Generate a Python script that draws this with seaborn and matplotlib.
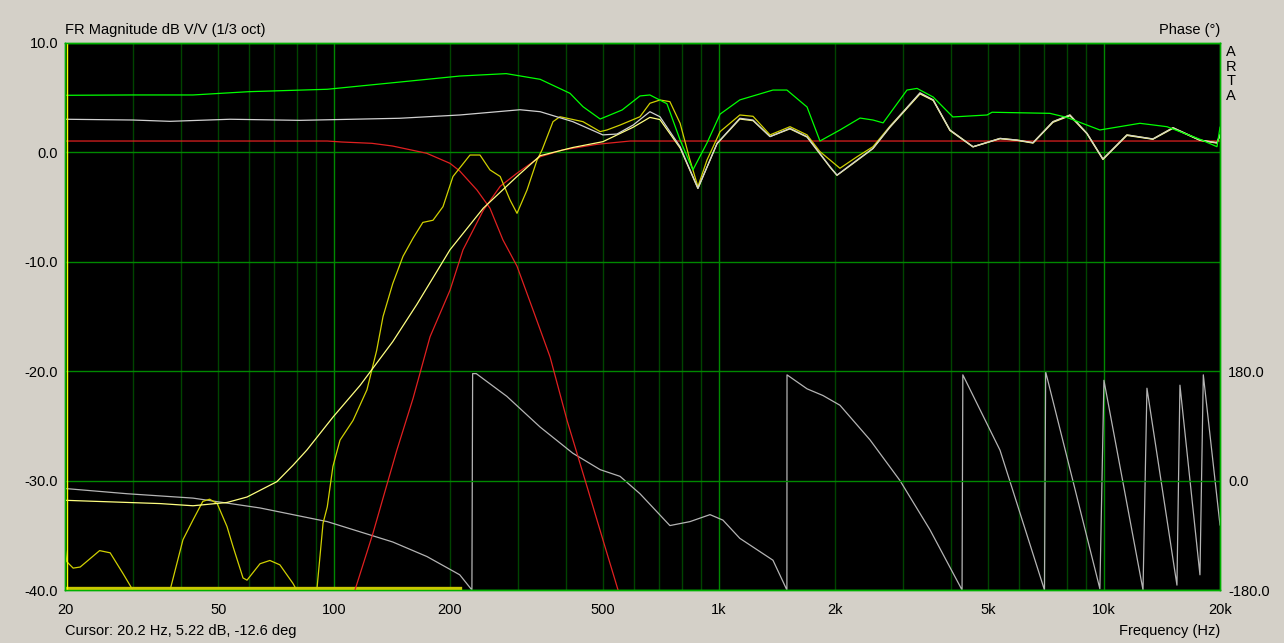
"""ARTA style frequency response plot: magnitude curves plus wrapped phase."""

import matplotlib
matplotlib.use("Agg")
import matplotlib.pyplot as plt
from matplotlib.ticker import NullLocator
import seaborn as sns

# --- data ------------------------------------------------------------------
# total response (lime)
FREQ_TOTAL = [20, 30, 43, 60, 96, 150, 212, 280, 343, 410, 443, 491, 560, 623, 661,
              732, 792, 855, 930, 1006, 1132, 1380, 1500, 1692, 1828, 2060, 2323,
              2510, 2667, 3076, 3267, 3598, 4048, 4967, 5116, 7230, 8000, 9750,
              12390, 14560, 17740, 19640, 20000]
DB_TOTAL = [5.22, 5.25, 5.25, 5.55, 5.77, 6.45, 6.98, 7.2, 6.68, 5.4, 4.18, 3.05, 3.88,
            5.16, 5.25, 4.45, 1.13, -1.6, 0.86, 3.5, 4.8, 5.7, 5.7, 4.15, 1.04, 2.05,
            3.14, 2.96, 2.7, 5.7, 5.85, 5.06, 3.24, 3.42, 3.67, 3.57, 3.2, 2.05,
            2.66, 2.35, 1.2, 0.52, 2.3]

# summed response (light grey)
FREQ_SUM = [20, 30, 37.5, 53.7, 81.5, 148, 212, 304, 343, 417, 499, 543, 598, 661,
            702, 792, 881, 988, 1132, 1225, 1356, 1528, 1692, 1941, 2024, 2281,
            2510, 2779, 3325, 3598, 3977, 4565, 5366, 5940, 6536, 7364, 8152, 9027,
            9930, 11460, 13390, 15100, 17740, 19640, 20000]
DB_SUM = [3.03, 2.96, 2.84, 3.03, 2.93, 3.12, 3.42, 3.9, 3.72, 2.81, 1.6, 1.68, 2.5,
          3.72, 3.26, 0.52, -3.28, 0.83, 3.12, 2.96, 1.44, 2.2, 1.44, -1.3, -2.07,
          -0.7, 0.37, 2.35, 5.45, 4.8, 2.05, 0.52, 1.28, 1.13, 0.89, 2.81, 3.42,
          1.74, -0.6, 1.6, 1.23, 2.26, 1.13, 0.89, 1.6]

# filtered driver (pale yellow)
FREQ_FILT = [20, 35.3, 43, 52.7, 59.4, 71, 78.2, 85, 99.3, 116.8, 142, 164, 200, 244,
             298.6, 343, 417, 499, 598, 661, 702, 792, 881, 988, 1132, 1225, 1356,
             1528, 1692, 1941, 2024, 2281, 2510, 2779, 3325, 3598, 3977, 4565, 5366,
             5940, 6536, 7364, 8152, 9027, 9930, 11460, 13390, 15100, 17740, 19640,
             20000]
DB_FILT = [-31.8, -32.1, -32.3, -32.0, -31.5, -30.1, -28.6, -27.2, -24.2, -21.3,
           -17.3, -13.9, -8.9, -5.1, -2.2, -0.3, 0.45, 0.98, 2.3, 3.2, 3.0, 0.4,
           -3.3, 0.8, 3.05, 2.9, 1.45, 2.15, 1.4, -1.35, -2.1, -0.75, 0.35, 2.3,
           5.35, 4.75, 2.0, 0.5, 1.25, 1.1, 0.85, 2.75, 3.35, 1.7, -0.65, 1.55,
           1.2, 2.2, 1.1, 0.85, 1.55]

# measured driver (dark yellow)
FREQ_MEAS = [20, 20.2, 21, 21.9, 24.6, 26.2, 28.3, 30, 33, 37.5, 40.5, 43, 45.6, 47.5,
             49.7, 52.7, 54.6, 58, 59.4, 64.2, 68.1, 72.3, 78.2, 80.5, 84, 90.2, 93.6,
             96, 99.3, 103.6, 112, 121.7, 129, 134, 142, 151, 160.3, 170, 180.7,
             191.8, 203.6, 225.4, 239.3, 254, 270, 286.4, 298.6, 317, 336.6, 346.8,
             370.3, 386, 443, 491, 511.4, 553, 623, 661, 702, 745, 792, 840, 881,
             930, 1006, 1132, 1225, 1356, 1528, 1692, 1828, 2060, 2281, 2510, 2779,
             3325, 3598, 3977, 4565, 5366, 5940, 6536, 7364, 8152, 9027, 9930,
             11460, 13390, 15100, 17740, 19640, 20000]
DB_MEAS = [-36.0, -37.4, -38.0, -37.9, -36.4, -36.6, -38.5, -40.0, -43.0, -40.0,
           -35.4, -33.6, -31.9, -31.7, -32.1, -34.2, -36.0, -38.9, -39.1, -37.6,
           -37.3, -37.7, -39.4, -40.2, -43.0, -40.0, -33.9, -32.4, -28.7, -26.3,
           -24.5, -21.7, -18.1, -15.0, -12.0, -9.5, -7.85, -6.4, -6.2, -4.96,
           -2.2, -0.24, -0.24, -1.6, -2.2, -4.35, -5.57, -3.44, -0.7, 0.22,
           2.81, 3.26, 2.81, 1.9, 2.05, 2.5, 3.26, 4.49, 4.79, 4.64,
           2.66, -0.7, -3.13, -0.7, 1.9, 3.42, 3.3, 1.6, 2.35, 1.6,
           0.07, -1.45, -0.4, 0.52, 2.4, 5.4, 4.8, 2.05, 0.52, 1.28,
           1.13, 0.89, 2.81, 3.42, 1.74, -0.6, 1.6, 1.23, 2.26, 1.13, 0.89, 1.6]

# crossover targets (red)
FREQ_LP = [20, 96, 104.8, 125.4, 142, 174, 200, 212, 235, 254, 274.5, 298.6, 328.6,
           363.9, 402.8, 453.9, 499, 546.4, 560]
DB_LP = [1.04, 1.04, 0.95, 0.83, 0.58, -0.08, -1.0, -1.7, -3.44, -5.1, -8.0, -10.4,
         -14.4, -18.7, -24.5, -30.55, -35.4, -40, -42]
FREQ_HP = [107, 113.3, 126.2, 134, 145.6, 160.3, 177.5, 200, 216.2, 244, 270, 298.6,
           343, 392, 481.8, 586.9, 20000]
DB_HP = [-42, -40, -34.8, -31.6, -27.2, -22.5, -16.85, -12.6, -8.9, -5.3, -3.1, -1.9,
         -0.4, 0.22, 0.74, 1.04, 1.04]

# phase (grey, right axis, wrapped)
FREQ_PHASE = [20, 29, 43, 64.2, 96, 142, 174.3, 212, 228, 229, 234, 281, 343, 417,
              491, 553, 623, 745, 840, 947, 1023, 1132, 1380, 1500, 1501, 1692, 1861,
              2060, 2466, 2950, 3530, 4276, 4296, 5366, 7000, 7050, 9750, 9990,
              12620, 12920, 15460, 15740, 17740, 18100, 20000]
DEG_PHASE = [-13, -21.6, -28.8, -45, -67.5, -101, -125, -155, -180, 176, 176, 138.6,
             88, 45, 18, 7, -21.6, -74, -67.5, -56, -65, -95, -131, -180, 174, 151,
             140, 124, 67, 0, -81, -180, 174, 50, -180, 179, -178, 165, -180, 152,
             -172, 157, -155, 174, -73]

# bottom marker band
FREQ_BAND = [20, 212]
DB_BAND = [-39.85, -39.85]

CURSOR_FREQ = 20.2
CURSOR_DB = 5.22
CURSOR_DEG = -12.6

DB_TICKS = [-40, -30, -20, -10, 0, 10]
DEG_TICKS = [-180, 0, 180]
TICK_FREQS = [20, 50, 100, 200, 500, 1000, 2000, 5000, 10000, 20000]
TICK_LABELS = ["20", "50", "100", "200", "500", "1k", "2k", "5k", "10k", "20k"]

BG = "#d4d0c8"
GRID_MAJOR = "#008800"
GRID_MINOR = "#004400"
FRAME = "#00b000"
W, H = 1284, 643


def main():
    plt.rcParams["font.family"] = ["Liberation Sans", "DejaVu Sans"]
    plt.rcParams["font.size"] = 10.5

    fig = plt.figure(figsize=(W / 100, H / 100), dpi=100, facecolor=BG)
    ax = fig.add_axes([65 / W, 53 / H, 1155 / W, 547 / H])
    ax.set_xscale("log")
    ax.set_xlim(20, 20000)
    ax.set_ylim(-40, 10)

    # phase axis sits underneath the magnitude axis and carries the black face
    ax2 = ax.twinx()
    ax2.set_ylim(-180, 720)
    ax2.set_zorder(0)
    ax.set_zorder(1)
    ax.patch.set_visible(False)
    ax2.patch.set_visible(True)
    ax2.patch.set_facecolor("black")

    # vertical grid: bright at decades, dark at the other multiples
    for decade in (10, 100, 1000, 10000):
        for m in range(1, 10):
            f = decade * m
            if 20 < f < 20000:
                ax2.axvline(f, color=GRID_MAJOR if m == 1 else GRID_MINOR,
                            lw=1, zorder=0)
    ax.set_yticks(DB_TICKS)
    ax.set_yticklabels([f"{v:.1f}" for v in DB_TICKS])
    ax.grid(axis="y", color=GRID_MAJOR, lw=1)
    ax.grid(axis="x", visible=False)

    ax2.set_yticks(DEG_TICKS)
    ax2.set_yticklabels([f"{v:.1f}" for v in DEG_TICKS])

    ax.set_xticks(TICK_FREQS)
    ax.set_xticklabels(TICK_LABELS)
    ax.xaxis.set_minor_locator(NullLocator())
    ax.yaxis.set_minor_locator(NullLocator())
    ax2.yaxis.set_minor_locator(NullLocator())
    ax.tick_params(axis="x", length=0, pad=9)
    ax.tick_params(axis="y", length=0, pad=5)
    ax2.tick_params(axis="y", length=0, pad=6)

    lw = 0.9
    sns.lineplot(x=FREQ_PHASE, y=DEG_PHASE, ax=ax2, color="#b4b4b4", lw=lw,
                 estimator=None, sort=False)
    sns.lineplot(x=FREQ_BAND, y=DB_BAND, ax=ax, color="#c8c800", lw=2.4,
                 estimator=None, sort=False)
    sns.lineplot(x=FREQ_LP, y=DB_LP, ax=ax, color="#e02020", lw=lw,
                 estimator=None, sort=False)
    sns.lineplot(x=FREQ_HP, y=DB_HP, ax=ax, color="#e02020", lw=lw,
                 estimator=None, sort=False)
    sns.lineplot(x=FREQ_MEAS, y=DB_MEAS, ax=ax, color="#d0d000", lw=lw,
                 estimator=None, sort=False)
    sns.lineplot(x=FREQ_FILT, y=DB_FILT, ax=ax, color="#ffff80", lw=lw,
                 estimator=None, sort=False)
    sns.lineplot(x=FREQ_SUM, y=DB_SUM, ax=ax, color="#d0d0d0", lw=lw,
                 estimator=None, sort=False)
    sns.lineplot(x=FREQ_TOTAL, y=DB_TOTAL, ax=ax, color="#00ff00", lw=lw,
                 estimator=None, sort=False)
    ax.axvline(CURSOR_FREQ, color="#ffff00", lw=1)

    ax.set_xlabel("")
    ax.set_ylabel("")
    ax2.set_ylabel("")
    for a in (ax, ax2):
        for s in a.spines.values():
            s.set_color(FRAME)
            s.set_linewidth(1)

    fig.text(65 / W, 1 - 30 / H, "FR Magnitude dB V/V (1/3 oct)", ha="left", va="center")
    fig.text(1220 / W, 1 - 30 / H, "Phase (°)", ha="right", va="center")
    fig.text(1231 / W, 1 - 45 / H, "A\nR\nT\nA", ha="center", va="top", linespacing=1.05)
    fig.text(65 / W, 1 - 631 / H,
             f"Cursor: {CURSOR_FREQ} Hz, {CURSOR_DB:.2f} dB, {CURSOR_DEG} deg",
             ha="left", va="center")
    fig.text(1220 / W, 1 - 631 / H, "Frequency (Hz)", ha="right", va="center")

    fig.savefig("out.png", dpi=100, facecolor=BG)


if __name__ == "__main__":
    main()
